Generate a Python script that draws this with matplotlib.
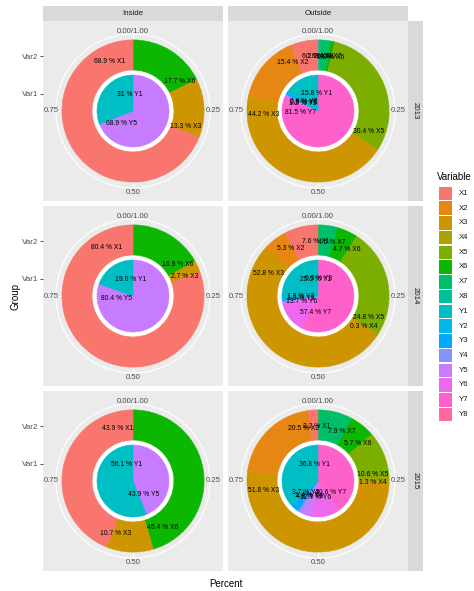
import numpy as np
import matplotlib
matplotlib.use('Agg')
import matplotlib.pyplot as plt
from matplotlib.patches import Rectangle, Circle

plt.rcParams['font.family'] = ['Liberation Sans', 'DejaVu Sans']

variables = ['X1', 'X2', 'X3', 'X4', 'X5', 'X6', 'X7', 'X8',
             'Y1', 'Y2', 'Y3', 'Y4', 'Y5', 'Y6', 'Y7', 'Y8']
palette = ['#F8766D', '#E68613', '#CD9600', '#ABA300', '#7CAE00', '#0CB702', '#00BE67', '#00C19A',
           '#00BFC4', '#00B8E7', '#00A9FF', '#8494FF', '#C77CFF', '#ED68ED', '#FF61CC', '#FF68A1']
colour = dict(zip(variables, palette))

places = ['Inside', 'Outside']
years = ['2013', '2014', '2015']

# Percent per Variable; Var1 = inner pie, Var2 = outer ring
var1_inside_2013 = {'Y1': 31, 'Y5': 68.9}
var2_inside_2013 = {'X1': 68.9, 'X3': 13.3, 'X6': 17.7}
var1_outside_2013 = {'Y1': 15.8, 'Y2': 0.6, 'Y3': 0.9, 'Y5': 1.2, 'Y7': 81.5}
var2_outside_2013 = {'X1': 6.2, 'X2': 15.4, 'X3': 44.2, 'X5': 30.4, 'X6': 0.8, 'X7': 2.4, 'X8': 0.6}

var1_inside_2014 = {'Y1': 19.6, 'Y5': 80.4}
var2_inside_2014 = {'X1': 80.4, 'X3': 2.7, 'X6': 16.9}
var1_outside_2014 = {'Y1': 25.5, 'Y3': 1.8, 'Y5': 1.3, 'Y6': 13.7, 'Y7': 57.4, 'Y8': 0.3}
var2_outside_2014 = {'X1': 7.6, 'X2': 5.3, 'X3': 52.8, 'X4': 0.3, 'X5': 24.8, 'X6': 4.7, 'X7': 4.5}

var1_inside_2015 = {'Y1': 56.1, 'Y5': 43.9}
var2_inside_2015 = {'X1': 43.9, 'X3': 10.7, 'X6': 45.4}
var1_outside_2015 = {'Y1': 36.8, 'Y3': 3.7, 'Y4': 1.4, 'Y5': 4.8, 'Y6': 12.7, 'Y7': 40.6}
var2_outside_2015 = {'X1': 2.2, 'X2': 20.5, 'X3': 51.8, 'X4': 1.3, 'X5': 10.6, 'X6': 5.7, 'X7': 7.9}

panels = {
    ('2013', 'Inside'): (var1_inside_2013, var2_inside_2013),
    ('2013', 'Outside'): (var1_outside_2013, var2_outside_2013),
    ('2014', 'Inside'): (var1_inside_2014, var2_inside_2014),
    ('2014', 'Outside'): (var1_outside_2014, var2_outside_2014),
    ('2015', 'Inside'): (var1_inside_2015, var2_inside_2015),
    ('2015', 'Outside'): (var1_outside_2015, var2_outside_2015),
}

# radii in panel half-widths
R_PIE = 0.40
R_RING_IN = 0.455
R_RING_OUT = 0.79
R_GRID = 0.856
R_VAR1 = 0.19
R_VAR2 = 0.61

W, H = 474, 591
fig = plt.figure(figsize=(W / 100, H / 100), dpi=100)
fig.patch.set_facecolor('white')

col_left = [43, 228]
row_top = [21, 206, 391]
size = 180


def ring(ax, pct, r_out, r_in, r_lab):
    # ggplot stacks the last level first, clockwise from 12 o'clock
    names = sorted(pct, key=variables.index, reverse=True)
    vals = np.array([pct[n] for n in names]) / 100.0
    wp = dict(linewidth=0.4)
    if r_in > 0:
        wp['width'] = r_out - r_in
    wedges, _ = ax.pie(vals, radius=r_out, colors=[colour[n] for n in names], startangle=90,
                       counterclock=False, wedgeprops=wp)
    for w in wedges:
        w.set_edgecolor(w.get_facecolor())
    pos = np.cumsum(vals) - vals + 0.9 * vals
    ang = np.pi / 2 - 2 * np.pi * pos
    for n, v, a in zip(names, vals, ang):
        ax.text(r_lab * np.cos(a), r_lab * np.sin(a), f"{round(v * 100, 1):g} % {n}",
                ha='center', va='center', fontsize=4.9, color='black', zorder=5)


for i, yr in enumerate(years):
    for j, pl in enumerate(places):
        var1, var2 = panels[(yr, pl)]
        ax = fig.add_axes([col_left[j] / W, 1 - (row_top[i] + size) / H, size / W, size / H])
        # background grid
        for f in [0, 0.25, 0.5, 0.75]:
            ax.plot([0, R_GRID * np.sin(2 * np.pi * f)], [0, R_GRID * np.cos(2 * np.pi * f)],
                    color='white', lw=0.8, zorder=0.5)
        ax.add_patch(Circle((0, 0), R_GRID, fill=False, ec='white', lw=0.8, zorder=0.5))
        ax.add_patch(Circle((0, 0), R_RING_IN, fc='white', ec='none', zorder=0.6))
        ring(ax, var2, R_RING_OUT, R_RING_IN, R_VAR2)
        ring(ax, var1, R_PIE, 0, R_VAR1)
        for f, lab, r in [(0, '0.00/1.00', 0.885), (0.25, '0.25', 0.895),
                          (0.5, '0.50', 0.91), (0.75, '0.75', 0.91)]:
            ax.text(r * np.sin(2 * np.pi * f), r * np.cos(2 * np.pi * f), lab,
                    ha='center', va='center', fontsize=5.6, color='#4D4D4D')
        ax.set_xlim(-1, 1)
        ax.set_ylim(-1, 1)
        ax.set_aspect('equal')
        ax.set_frame_on(True)
        for s in ax.spines.values():
            s.set_visible(False)
        ax.set_facecolor('#EBEBEB')
        ax.set_xticks([])
        if j == 0:
            ax.set_yticks([R_VAR1, R_VAR2])
            ax.set_yticklabels(['Var1', 'Var2'])
            ax.tick_params(axis='y', length=2, width=0.6, color='#333333', pad=1.5,
                           labelsize=5.8, labelcolor='#4D4D4D')
        else:
            ax.set_yticks([])

# strips, titles and legend
ov = fig.add_axes([0, 0, 1, 1], zorder=10)
ov.set_xlim(0, W)
ov.set_ylim(H, 0)
ov.axis('off')

for j, pl in enumerate(places):
    ov.add_patch(Rectangle((col_left[j], 6), size, 15, fc='#D9D9D9', ec='none'))
    ov.text(col_left[j] + size / 2, 13.5, pl, ha='center', va='center', fontsize=5.7, color='#1A1A1A')
for i, yr in enumerate(years):
    ov.add_patch(Rectangle((col_left[1] + size, row_top[i]), 15, size, fc='#D9D9D9', ec='none'))
    ov.text(col_left[1] + size + 7.5, row_top[i] + size / 2, yr, ha='center', va='center',
            rotation=-90, fontsize=5.7, color='#1A1A1A')

ov.text(16, 296, 'Group', ha='center', va='center', rotation=90, fontsize=7)
ov.text(226, 584, 'Percent', ha='center', va='center', fontsize=7)

ov.text(437, 177, 'Variable', ha='left', va='center', fontsize=7)
for k, v in enumerate(variables):
    y0 = 186.5 + k * 14.75
    ov.add_patch(Rectangle((439, y0), 13, 13.5, fc=colour[v], ec='none'))
    ov.text(459, y0 + 6.75, v, ha='left', va='center', fontsize=5.6, color='#1A1A1A')

fig.savefig('out.png', dpi=100)
